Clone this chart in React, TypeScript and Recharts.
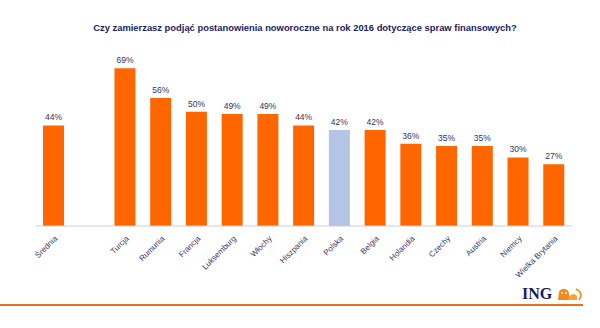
import React from "react";
import { BarChart, Bar, XAxis, YAxis, Cell, LabelList } from "recharts";

const categories = [
  "Średnia",
  "",
  "Turcja",
  "Rumunia",
  "Francja",
  "Luksemburg",
  "Włochy",
  "Hiszpania",
  "Polska",
  "Belgia",
  "Holandia",
  "Czechy",
  "Austria",
  "Niemcy",
  "Wielka Brytania",
];
const values: (number | null)[] = [44, null, 69, 56, 50, 49, 49, 44, 42, 42, 36, 35, 35, 30, 27];
const highlight = "Polska";

const data = categories.map((name, i) => ({ name, value: values[i] }));

const ORANGE = "#ff6600";
const BLUE = "#b4c4e4";
const NAVY = "#1c1c5c";

function Tick({ x, y, payload }: any) {
  if (!payload.value) return null;
  return (
    <text
      transform={`translate(${x + 4},${y + 5}) rotate(-45)`}
      textAnchor="end"
      fontSize={8}
      fill="#34346a"
      fontFamily="Arial, 'Liberation Sans', sans-serif"
    >
      {payload.value}
    </text>
  );
}

export default function App() {
  return (
    <div style={{ position: "absolute", left: 0, top: 0, width: 600, height: 328, background: "#fff" }}>
      <div
        style={{
          position: "absolute",
          top: 22,
          left: 0,
          width: 610,
          textAlign: "center",
          fontFamily: "Arial, 'Liberation Sans', sans-serif",
          fontWeight: "bold",
          fontSize: 9.4,
          color: NAVY,
        }}
      >
        Czy zamierzasz podjąć postanowienia noworoczne na rok 2016 dotyczące spraw finansowych?
      </div>
      <BarChart
        width={600}
        height={328}
        data={data}
        margin={{ top: 66, right: 28, bottom: 2, left: 36 }}
        barCategoryGap={0}
      >
        <XAxis
          dataKey="name"
          interval={0}
          tickLine={false}
          axisLine={{ stroke: "#cccce0" }}
          tick={<Tick />}
          height={100}
        />
        <YAxis hide domain={[0, 70]} />
        <Bar dataKey="value" barSize={21} isAnimationActive={false}>
          {data.map((d, i) => (
            <Cell key={i} fill={d.name === highlight ? BLUE : ORANGE} />
          ))}
          <LabelList
            dataKey="value"
            position="top"
            offset={5}
            formatter={(v: any) => (v == null ? "" : `${v}%`)}
            style={{ fontSize: 8.5, fill: "#33335a", fontFamily: "Arial, 'Liberation Sans', sans-serif" }}
          />
        </Bar>
      </BarChart>
      <div style={{ position: "absolute", left: 0, top: 304, width: 583, height: 2, background: "#e8731e" }} />
      <div
        style={{
          position: "absolute",
          left: 522,
          top: 286,
          fontFamily: "'Liberation Serif', 'DejaVu Serif', serif",
          fontWeight: "bold",
          fontSize: 16,
          color: NAVY,
          lineHeight: "16px",
        }}
      >
        ING
      </div>
      <svg style={{ position: "absolute", left: 557, top: 287 }} width={27} height={14}>
        <path d="M1 13 L2 5 Q4 1 8 2 Q12 3 12 7 L13 13 Z" fill="#f28a1e" />
        <path d="M11 13 Q12 7 17 7 Q21 8 20 13 Z" fill="#f7a23a" />
        <path d="M19 2 Q27 6 22 13" stroke="#f28a1e" strokeWidth={1.6} fill="none" />
        <circle cx={5} cy={6} r={0.9} fill="#fff" />
        <circle cx={9} cy={6} r={0.9} fill="#fff" />
      </svg>
    </div>
  );
}
